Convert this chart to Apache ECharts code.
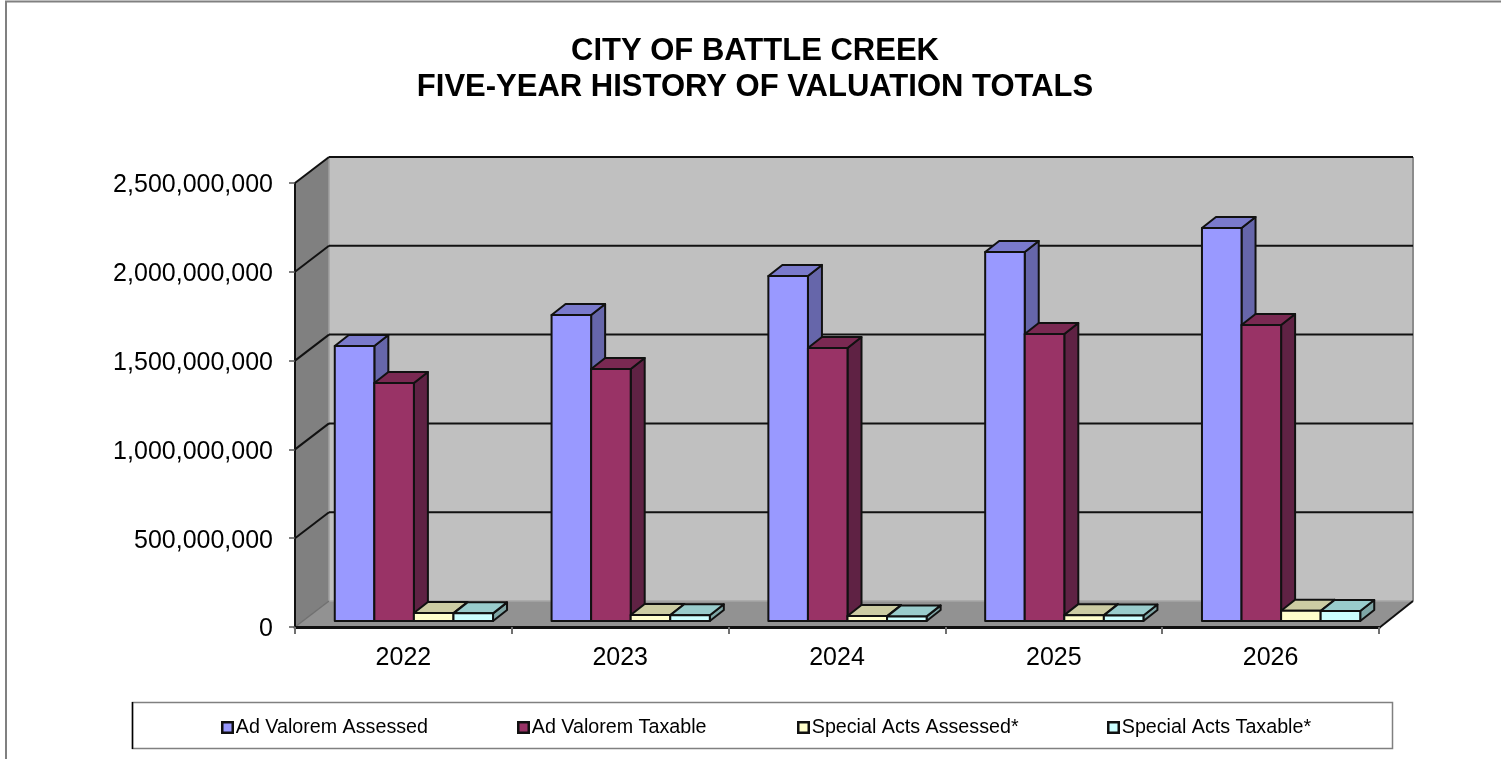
<!DOCTYPE html>
<html><head><meta charset="utf-8">
<script src="https://cdn.jsdelivr.net/npm/echarts@6/dist/echarts.min.js"></script>
<style>html,body{margin:0;padding:0;background:#fff}#c{width:1501px;height:759px}</style>
</head><body><div id="c"></div>
<script>
const years = ['2022','2023','2024','2025','2026'];
const adValoremAssessed = [1548000000,1723000000,1943000000,2078000000,2213000000];
const adValoremTaxable  = [1340000000,1419000000,1537000000,1616000000,1667000000];
const specialAssessed   = [45000000,34000000,28000000,33000000,58000000];
const specialTaxable    = [43000000,32000000,26000000,31000000,56000000];
const yTicks = [0,500000000,1000000000,1500000000,2000000000,2500000000];
const seriesNames = ['Ad Valorem Assessed','Ad Valorem Taxable','Special Acts Assessed*','Special Acts Taxable*'];
const seriesValues = [adValoremAssessed,adValoremTaxable,specialAssessed,specialTaxable];
const faces = [
  {front:'#9999ff',top:'#7a7acc',side:'#6666aa'},
  {front:'#993366',top:'#7a2952',side:'#5f2244'},
  {front:'#ffffcc',top:'#cccca3',side:'#99997a'},
  {front:'#ccffff',top:'#99cccc',side:'#7fa6a6'}
];
const legendLeft = [221,517,797,1107];

const WALL_DX = 34, WALL_DY = 26;          // projection of the chart's depth
const PLANE_DX = 10.5, PLANE_DY = 6;       // plane in which the bars stand
const BAR_DX = 14, BAR_DY = 11;            // depth of a bar
const BAR_FRAC = 0.1825;

const poly = (points, fill, stroke, lw) => ({type:'polygon', shape:{points},
  style:{fill, stroke: stroke || 'none', lineWidth: lw || 0, lineJoin:'round'}, silent:true});
const seg = (x1,y1,x2,y2,stroke,lw) => ({type:'line', shape:{x1,y1,x2,y2}, style:{stroke, lineWidth:lw}, silent:true});

function renderWalls(params){
  const r = params.coordSys, x0=r.x, x1=r.x+r.width, yt=r.y, yb=r.y+r.height;
  return {type:'group', children:[
    poly([[x0+WALL_DX,yt-WALL_DY],[x1+WALL_DX,yt-WALL_DY],[x1+WALL_DX,yb-WALL_DY],[x0+WALL_DX,yb-WALL_DY]],'#c0c0c0'),
    poly([[x0,yt],[x0+WALL_DX,yt-WALL_DY],[x0+WALL_DX,yb-WALL_DY],[x0,yb]],'#808080'),
    poly([[x0,yb],[x1,yb],[x1+WALL_DX,yb-WALL_DY],[x0+WALL_DX,yb-WALL_DY]],'#929292'),
    seg(x0+WALL_DX,yb-WALL_DY,x1+WALL_DX,yb-WALL_DY,'#a6a6a6',1.5),
    seg(x0+WALL_DX,yt-WALL_DY,x0+WALL_DX,yb-WALL_DY,'#a0a0a0',1.5),
    seg(x1+WALL_DX,yt-WALL_DY,x1+WALL_DX,yb-WALL_DY,'#8c8c8c',2),
    seg(x0,yb,x0+WALL_DX,yb-WALL_DY,'#707070',1.5),
    seg(x1,yb+1,x1+WALL_DX,yb-WALL_DY,'#111',2)
  ]};
}
function renderGrid(params, api){
  const r = params.coordSys, x0=r.x, x1=r.x+r.width;
  const y = api.coord([0, api.value(0)])[1];
  return {type:'group', children:[
    seg(x0,y,x0+WALL_DX,y-WALL_DY,'#111',2),
    seg(x0+WALL_DX,y-WALL_DY,x1+WALL_DX,y-WALL_DY,'#111',2)
  ]};
}
function makeBar(si){
  return function(params, api){
    const p = api.coord([api.value(0), api.value(1)]);
    const base = api.coord([api.value(0), 0]);
    const w = api.size([1,0])[0]*BAR_FRAC;
    const xl = p[0] + PLANE_DX + (si-2)*w, xr = xl + w;
    const yt = p[1] - PLANE_DY, yb = base[1] - PLANE_DY;
    const c = faces[si];
    return {type:'group', children:[
      poly([[xr,yt],[xr+BAR_DX,yt-BAR_DY],[xr+BAR_DX,yb-BAR_DY],[xr,yb]],c.side,'#111',2),
      poly([[xl,yt],[xl+BAR_DX,yt-BAR_DY],[xr+BAR_DX,yt-BAR_DY],[xr,yt]],c.top,'#111',2),
      poly([[xl,yt],[xr,yt],[xr,yb],[xl,yb]],c.front,'#111',2)
    ]};
  };
}
const font = '"Liberation Sans", Arial, sans-serif';
const chart = echarts.init(document.getElementById('c'), null, {renderer:'canvas'});
chart.setOption({
  animation:false,
  backgroundColor:'#fff',
  title:{text:'CITY OF BATTLE CREEK\nFIVE-YEAR HISTORY OF VALUATION TOTALS',left:750,top:28,textAlign:'center',
    textStyle:{fontFamily:font,fontSize:31,fontWeight:'bold',color:'#000',lineHeight:36}},
  grid:{left:295,right:122,top:183,bottom:132,containLabel:false},
  xAxis:{type:'category',data:years,z:5,
    axisLine:{show:true,lineStyle:{color:'#111',width:3}},
    axisTick:{show:true,length:7,alignWithLabel:false,lineStyle:{color:'#707070',width:2}},
    axisLabel:{fontFamily:font,fontSize:25,color:'#000',margin:19},
    splitLine:{show:false}},
  yAxis:{type:'value',min:0,max:2500000000,interval:500000000,z:5,
    axisLine:{show:true,onZero:false,lineStyle:{color:'#111',width:2}},
    axisTick:{show:true,length:6,lineStyle:{color:'#555',width:1.5}},
    axisLabel:{fontFamily:font,fontSize:25,color:'#000',margin:22,verticalAlign:'top',lineHeight:5,
      formatter:v=>v.toLocaleString('en-US')},
    splitLine:{show:false}},
  legend:seriesNames.map((n,i)=>({data:[n],left:legendLeft[i],top:717.5,orient:'horizontal',
    itemWidth:10.5,itemHeight:10.5,icon:'rect',itemGap:0,padding:0,selectedMode:false,
    itemStyle:{borderColor:'#111',borderWidth:2.5},
    textStyle:{fontFamily:font,fontSize:19.7,color:'#000',padding:[0,0,0,-2]}})),
  graphic:[
    {type:'line',shape:{x1:5,y1:1.5,x2:1501,y2:1.5},style:{stroke:'#808080',lineWidth:2},silent:true},
    {type:'line',shape:{x1:6,y1:1,x2:6,y2:759},style:{stroke:'#808080',lineWidth:2},silent:true},
    {type:'rect',shape:{x:132.5,y:702.5,width:1260,height:46},style:{fill:'none',stroke:'#808080',lineWidth:1.5},silent:true},
    {type:'line',shape:{x1:132.5,y1:702,x2:132.5,y2:749},style:{stroke:'#000',lineWidth:1.5},silent:true}
  ],
  series:[
    {type:'custom',z:1,silent:true,renderItem:renderWalls,data:[0],clip:false},
    {type:'custom',z:1.5,silent:true,renderItem:renderGrid,data:yTicks.slice(1).map(v=>[v]),encode:{y:0},clip:false}
  ].concat(seriesNames.map((n,i)=>({
    name:n,type:'custom',z:2,silent:true,clip:false,renderItem:makeBar(i),
    itemStyle:{color:faces[i].front,borderColor:'#111',borderWidth:2},
    encode:{x:0,y:1},
    data:seriesValues[i].map((v,j)=>[j,v])
  })))
});
</script></body></html>
